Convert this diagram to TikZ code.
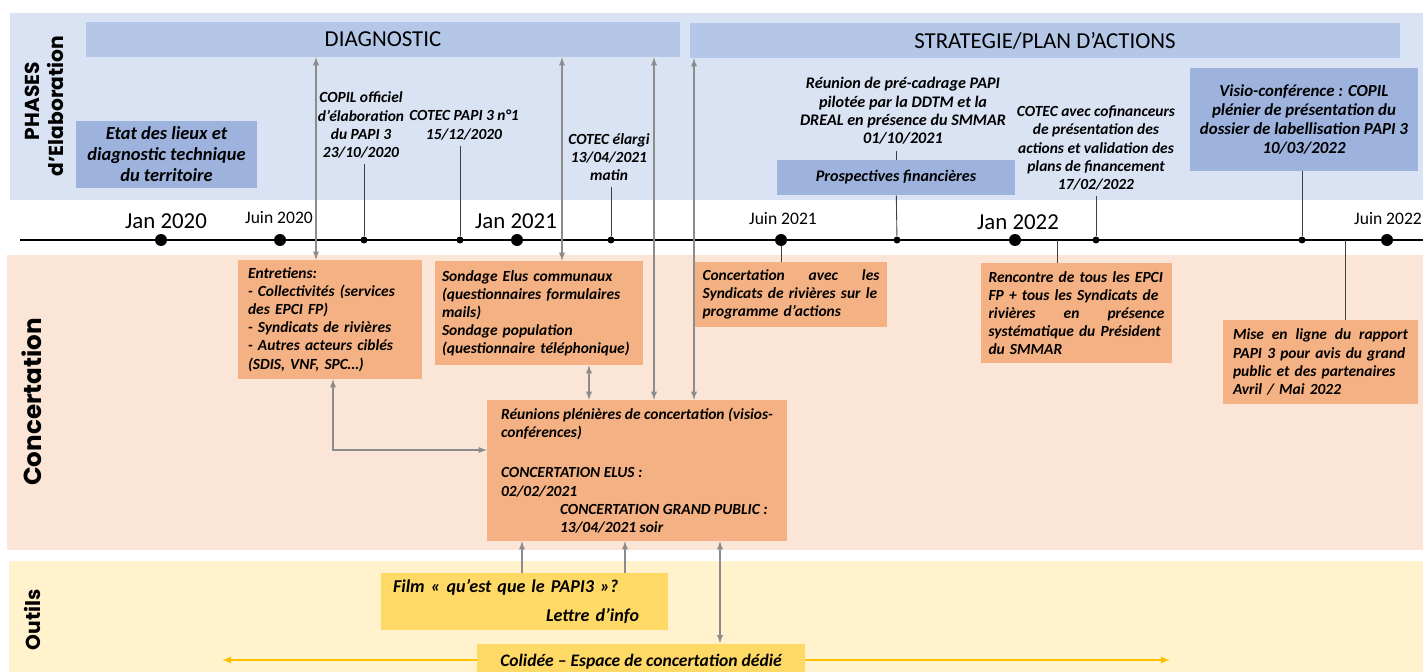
\documentclass[tikz,border=0pt]{standalone}
\usepackage{fontspec}
\setmainfont{Carlito}
\newfontfamily\bandfont{Poppins}
\usepackage{tikz}
\usetikzlibrary{arrows}
\usetikzlibrary{positioning}
\hyphenpenalty=10000
\exhyphenpenalty=10000

\definecolor{bandblue}{HTML}{DAE3F3}
\definecolor{bandpeach}{HTML}{FBE5D6}
\definecolor{bandyellow}{HTML}{FFF2CC}
\definecolor{titleblue}{HTML}{B4C7E7}
\definecolor{boxblue}{HTML}{9DB3DE}
\definecolor{boxorange}{HTML}{F4B183}
\definecolor{boxyellow}{HTML}{FFD966}
\definecolor{arrowgray}{HTML}{8C8C8C}
\definecolor{tickgray}{HTML}{404040}
\definecolor{lineyellow}{HTML}{FFC000}

\newcommand{\evtfont}{\fontsize{8.8}{10.3}\selectfont\bfseries\itshape}
\newcommand{\toolfont}{\fontsize{10}{12}\selectfont\bfseries\itshape}

\tikzstyle{phasetitle}=[fill=titleblue,minimum height=0.7cm,font=\fontsize{13}{15}\selectfont]
\tikzstyle{evt}=[align=center,font=\evtfont]
\tikzstyle{bluebox}=[evt,fill=boxblue]
\tikzstyle{orangebox}=[fill=boxorange,align=left,font=\evtfont,inner xsep=0.15cm]
\tikzstyle{yellowbox}=[fill=boxyellow,font=\toolfont]
\tikzstyle{bigdot}=[circle,fill=black,inner sep=0pt,minimum size=0.24cm]
\tikzstyle{smalldot}=[circle,fill=black,inner sep=0pt,minimum size=0.14cm]
\tikzstyle{datebig}=[font=\fontsize{13}{15}\selectfont]
\tikzstyle{datesmall}=[font=\fontsize{10}{12}\selectfont]
\tikzstyle{tickline}=[draw=tickgray,line width=0.5pt]
\tikzstyle{garrow}=[draw=arrowgray,line width=0.6pt,>=latex]
\tikzstyle{yarrow}=[draw=lineyellow,line width=0.8pt,-latex]
\tikzstyle{bandlabel}=[rotate=90,font=\bandfont\bfseries\fontsize{11.5}{13}\selectfont]

\begin{document}
\begin{tikzpicture}[x=0.02cm,y=-0.02cm]
	\useasboundingbox (0,0) rectangle (1423,672);
	% bands
	\fill[bandblue] (10,13) rectangle (1423,200);
	\fill[bandpeach] (7,255) rectangle (1423,550);
	\fill[bandyellow] (9,561) rectangle (1423,672);
	\node[bandlabel] (phases) at (32,101) {PHASES};
	\node[bandlabel] (elab) at (55,106) {d’Elaboration};
	\node[bandlabel,font=\bandfont\bfseries\fontsize{14}{16}\selectfont] (conclbl) at (32,402) {Concertation};
	\node[bandlabel] (outils) at (32,620) {Outils};

	% phases
	\node[phasetitle,minimum width=11.88cm] (diag) at (383,39.5) {DIAGNOSTIC};
	\node[phasetitle,minimum width=14.2cm] (strat) at (1045,40.5) {STRATEGIE/PLAN D’ACTIONS};
	\node[bluebox,font=\fontsize{10.5}{12}\selectfont\bfseries\itshape,minimum width=3.62cm,minimum height=1.26cm] (etat) at (166.5,154.5) {Etat des lieux et\\ diagnostic technique\\ du territoire};
	\node[bluebox,minimum width=4.76cm,minimum height=0.7cm,font=\fontsize{9.2}{10.5}\selectfont\bfseries\itshape] (prosp) at (896,177.5) {Prospectives financières};
	\node[bluebox,font=\fontsize{9.6}{10.8}\selectfont\bfseries\itshape,minimum width=4.56cm,minimum height=2.06cm] (visio) at (1304,119.5) {Visio-conférence : COPIL\\ plénier de présentation du\\ dossier de labellisation PAPI 3\\ 10/03/2022};
	\node[evt] (copil) at (361,125) {COPIL officiel\\ d’élaboration\\ du PAPI 3\\ 23/10/2020};
	\node[evt] (cotec1) at (464,125) {COTEC PAPI 3 n°1\\ 15/12/2020};
	\node[evt] (cotec2) at (609,157) {COTEC élargi\\ 13/04/2021\\ matin};
	\node[evt,font=\fontsize{9.2}{10.5}\selectfont\bfseries\itshape] (precadrage) at (903,111) {Réunion de pré-cadrage PAPI\\ pilotée par la DDTM et la\\ DREAL en présence du SMMAR\\ 01/10/2021};
	\node[evt] (cofin) at (1096,148) {COTEC avec cofinanceurs\\ de présentation des\\ actions et validation des\\ plans de financement\\ 17/02/2022};

	% timeline
	\coordinate (tlstart) at (20,240);
	\coordinate (tlend) at (1423,240);
	\draw[line width=0.8pt] (tlstart) -- (tlend);
	\node[bigdot] (jan20) at (161,240) {};
	\node[bigdot] (juin20) at (280,240) {};
	\node[bigdot] (jan21) at (517,240) {};
	\node[bigdot] (juin21) at (781,240) {};
	\node[bigdot] (jan22) at (1015,240) {};
	\node[bigdot] (juin22) at (1387,240) {};
	\node[smalldot] (dcopil) at (364,240) {};
	\node[smalldot] (dcotec1) at (460,240) {};
	\node[smalldot] (dcotec2) at (611,240) {};
	\node[smalldot] (dprosp) at (897,240) {};
	\node[smalldot] (dcofin) at (1096,240) {};
	\node[smalldot] (dvisio) at (1302,240) {};
	\node[datebig] (ljan20) at (166,221) {Jan 2020};
	\node[datesmall] (ljuin20) at (279,218) {Juin 2020};
	\node[datebig] (ljan21) at (516,221) {Jan 2021};
	\node[datesmall] (ljuin21) at (783,219) {Juin 2021};
	\node[datebig] (ljan22) at (1018,222) {Jan 2022};
	\node[datesmall] (ljuin22) at (1388,219) {Juin 2022};
	\draw[tickline] (copil.south -| dcopil) -- (dcopil);
	\draw[tickline] (cotec1.south -| dcotec1) -- (dcotec1);
	\draw[tickline] (cotec2.south -| dcotec2) -- (dcotec2);
	\draw[tickline] (prosp.north |- precadrage.south) -- (prosp.north);
	\draw[tickline] (prosp) -- (dprosp);
	\draw[tickline] (cofin) -- (dcofin);
	\draw[tickline] (visio.south -| dvisio) -- (dvisio);

	% concertation
	\node[orangebox,inner xsep=0.2cm,text width=3.28cm,minimum height=2.38cm] (entretiens) at (330,319.5) {Entretiens:\\ - Collectivités (services\\ des EPCI FP)\\ - Syndicats de rivières\\ - Autres acteurs ciblés\\ (SDIS, VNF, SPC…)};
	\node[orangebox,inner xsep=0.14cm,text width=3.88cm,minimum height=2.08cm] (sondage) at (539,313) {Sondage Elus communaux\\ (questionnaires formulaires\\ mails)\\ Sondage population\\ (questionnaire téléphonique)};
	\node[orangebox,text width=3.54cm,minimum height=1.3cm] (concsynd) at (791,294.5) {Concertation\hfill avec\hfill les\\ Syndicats de rivières sur le\\ programme d’actions};
	\node[orangebox,text width=3.52cm,minimum height=2.0cm] (rencontre) at (1076.5,313) {Rencontre de tous les EPCI\\ FP + tous les Syndicats de\\ rivières\hfill en\hfill présence\\ systématique du Président\\ du SMMAR};
	\node[orangebox,inner xsep=0.2cm,text width=3.5cm,minimum height=1.68cm] (miseligne) at (1320.5,362) {Mise\hfill en\hfill ligne\hfill du\hfill rapport\\ PAPI 3 pour avis du grand\\ public et des partenaires\\ Avril / Mai 2022};
	\node[orangebox,minimum width=6cm,minimum height=2.82cm] (reunions) at (637,470.5) {Réunions plénières de concertation (visios-\\ conférences)\\ \rule{0pt}{20.6pt}CONCERTATION ELUS :\\ 02/02/2021\\ \hspace*{1.18cm}CONCERTATION GRAND PUBLIC :\\ \hspace*{1.18cm}13/04/2021 soir};
	\coordinate (xrenc) at (1057,240);
	\coordinate (xmise) at (1345,240);
	\draw[tickline] (juin21) -- (juin21 |- concsynd.north);
	\draw[tickline] (xrenc) -- (xrenc |- rencontre.north);
	\draw[tickline] (xmise) -- (xmise |- miseligne.north);

	% outils
	\node[yellowbox,font=\fontsize{10.3}{17}\selectfont\bfseries\itshape,text width=5.26cm,inner xsep=0.24cm,minimum height=1.14cm,align=left] (film) at (524.5,601.5) {Film « qu’est que le PAPI3 »?\\ \hspace*{3.06cm}Lettre d’info};
	\node[yellowbox,minimum width=6.56cm,minimum height=0.72cm] (colidee) at (641,661.5) {Colidée – Espace de concertation dédié};
	\coordinate (yleft) at (222,660);
	\coordinate (yright) at (1170,660);
	\draw[yarrow] (colidee.west |- yleft) -- (yleft);
	\draw[yarrow] (colidee.east |- yright) -- (yright);

	% links
	\coordinate (xent) at (316,0);
	\coordinate (xsond) at (562,0);
	\coordinate (xreun1) at (654,0);
	\coordinate (xreun2) at (694,0);
	\coordinate (xsr) at (589,0);
	\coordinate (xelb) at (333,0);
	\coordinate (yelb) at (0,450);
	\coordinate (xfilm1) at (522,0);
	\coordinate (xfilm2) at (625,0);
	\coordinate (xcol) at (720,0);
	\draw[garrow,<->] (xent |- diag.south) -- (xent |- entretiens.north);
	\draw[garrow,<->] (xsond |- diag.south) -- (xsond |- sondage.north);
	\draw[garrow,<->] (xreun1 |- diag.south) -- (xreun1 |- reunions.north);
	\draw[garrow,<->] (xreun2 |- strat.south) -- (xreun2 |- reunions.north);
	\draw[garrow,<->] (xsr |- sondage.south) -- (xsr |- reunions.north);
	\draw[garrow,<->] (xelb |- entretiens.south) |- (reunions.west |- yelb);
	\draw[garrow,->] (xfilm1 |- film.north) -- (xfilm1 |- reunions.south);
	\draw[garrow,->] (xfilm2 |- film.north) -- (xfilm2 |- reunions.south);
	\draw[garrow,<->] (xcol |- reunions.south) -- (xcol |- colidee.north);
\end{tikzpicture}
\end{document}
